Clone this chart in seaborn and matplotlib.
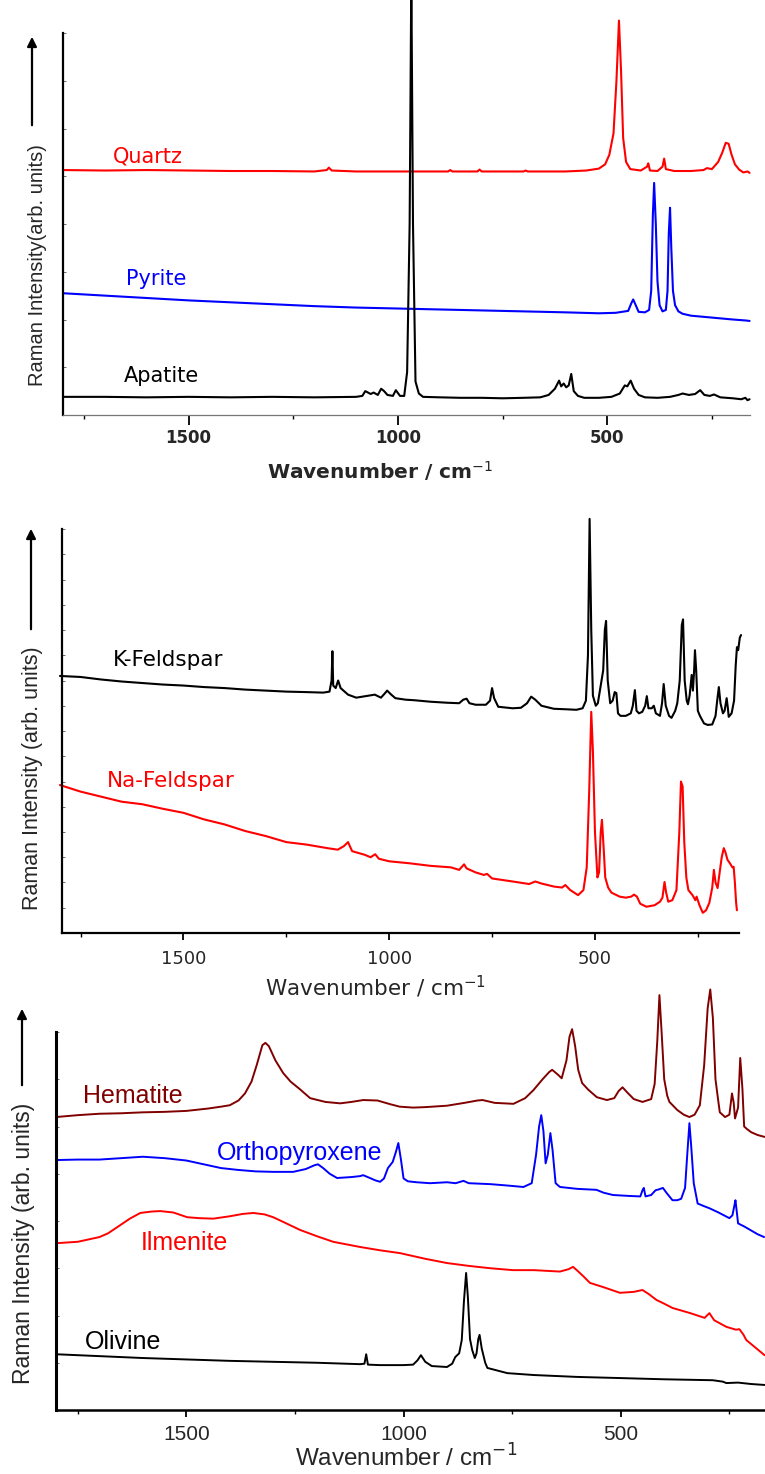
import matplotlib
matplotlib.use("Agg")
import matplotlib.pyplot as plt
import numpy as np
import seaborn as sns

# ---------- panel 1: Quartz / Pyrite / Apatite ----------
apatite_wn = [1800, 1700, 1600, 1500, 1400, 1300, 1200, 1100, 1085, 1078, 1065, 1058, 1048, 1040, 1033, 1025,
              1012, 1005, 995, 985, 978, 972, 968, 964, 958, 950, 940, 900, 850, 800, 750, 700, 660, 640, 625,
              615, 610, 604, 598, 592, 586, 580, 570, 555, 520, 490, 470, 458, 452, 444, 436, 425, 410, 380,
              350, 330, 320, 305, 290, 278, 268, 255, 245, 230, 200, 180, 170, 165, 160]
apatite_int = [0.38, 0.38, 0.37, 0.38, 0.37, 0.38, 0.37, 0.38, 0.40, 0.50, 0.44, 0.47, 0.42, 0.55, 0.50, 0.42,
               0.40, 0.52, 0.40, 0.40, 0.90, 4.00, 9.20, 4.00, 0.70, 0.45, 0.38, 0.37, 0.36, 0.36, 0.35, 0.36,
               0.37, 0.42, 0.55, 0.72, 0.60, 0.66, 0.58, 0.62, 0.86, 0.50, 0.40, 0.36, 0.36, 0.38, 0.45, 0.62,
               0.60, 0.72, 0.55, 0.42, 0.37, 0.36, 0.38, 0.42, 0.45, 0.42, 0.44, 0.52, 0.42, 0.40, 0.43, 0.37,
               0.35, 0.33, 0.36, 0.31, 0.33]

quartz_wn = [1800, 1700, 1600, 1500, 1400, 1300, 1200, 1170, 1165, 1158, 1100, 1000, 900, 880, 875, 870, 810,
             805, 800, 700, 695, 690, 600, 550, 520, 505, 495, 485, 478, 472, 467, 462, 455, 445, 420, 405, 402,
             398, 380, 368, 364, 360, 340, 300, 270, 262, 250, 235, 225, 217, 210, 203, 195, 185, 175, 165, 160]
quartz_int = [5.13, 5.12, 5.13, 5.12, 5.11, 5.11, 5.10, 5.13, 5.18, 5.12, 5.10, 5.10, 5.10, 5.10, 5.13, 5.10,
              5.10, 5.14, 5.10, 5.10, 5.12, 5.10, 5.10, 5.12, 5.16, 5.25, 5.45, 5.90, 7.00, 8.26, 7.20, 5.80,
              5.30, 5.15, 5.12, 5.20, 5.27, 5.12, 5.11, 5.20, 5.37, 5.15, 5.11, 5.11, 5.13, 5.17, 5.15, 5.30,
              5.50, 5.70, 5.68, 5.45, 5.25, 5.14, 5.08, 5.10, 5.07]

pyrite_wn = [1800, 1700, 1600, 1500, 1400, 1300, 1200, 1100, 1000, 900, 800, 700, 600, 520, 480, 450, 442, 438,
             432, 425, 410, 400, 395, 391, 388, 384, 380, 375, 368, 360, 356, 353, 350, 347, 343, 338, 330, 320,
             300, 250, 200, 170, 160]
pyrite_int = [2.55, 2.50, 2.45, 2.40, 2.36, 2.32, 2.28, 2.25, 2.23, 2.21, 2.19, 2.17, 2.15, 2.13, 2.14, 2.18,
              2.35, 2.42, 2.30, 2.16, 2.15, 2.20, 2.60, 4.20, 4.86, 4.00, 2.80, 2.30, 2.17, 2.20, 2.60, 3.80,
              4.34, 3.50, 2.60, 2.30, 2.17, 2.12, 2.08, 2.04, 2.00, 1.98, 1.97]

# ---------- panel 2: K-Feldspar / Na-Feldspar ----------
kfeld_wn = [1800, 1750, 1700, 1650, 1600, 1550, 1500, 1450, 1400, 1350, 1300, 1250, 1200, 1160, 1145, 1140,
            1138, 1136, 1130, 1124, 1118, 1100, 1080, 1065, 1050, 1035, 1020, 1010, 1005, 995, 985, 960, 940,
            900, 860, 830, 820, 812, 805, 790, 765, 755, 750, 745, 735, 700, 680, 665, 655, 645, 630, 600, 570,
            545, 530, 522, 517, 513, 509, 505, 498, 493, 488, 480, 476, 473, 469, 463, 457, 452, 448, 444, 438,
            425, 413, 408, 403, 399, 393, 385, 378, 374, 370, 362, 357, 352, 342, 337, 333, 328, 320, 314, 305,
            300, 294, 289, 286, 282, 277, 274, 270, 265, 262, 259, 257, 254, 250, 245, 235, 226, 215, 207, 203,
            199, 195, 189, 185, 180, 177, 175, 168, 162, 158, 155, 152, 148, 145]
kfeld_int = [5.09, 5.07, 5.02, 4.98, 4.95, 4.92, 4.90, 4.87, 4.85, 4.82, 4.80, 4.78, 4.77, 4.76, 4.78, 5.00,
             5.58, 4.90, 4.85, 5.00, 4.85, 4.72, 4.66, 4.68, 4.70, 4.72, 4.66, 4.75, 4.80, 4.72, 4.65, 4.62,
             4.61, 4.58, 4.56, 4.55, 4.62, 4.64, 4.55, 4.52, 4.52, 4.60, 4.85, 4.65, 4.48, 4.45, 4.46, 4.55,
             4.68, 4.62, 4.50, 4.44, 4.43, 4.42, 4.45, 4.60, 5.50, 8.20, 6.00, 4.70, 4.50, 4.55, 4.80, 5.20,
             6.00, 6.18, 5.00, 4.55, 4.60, 4.77, 4.75, 4.35, 4.30, 4.30, 4.35, 4.50, 4.81, 4.40, 4.35, 4.38,
             4.50, 4.69, 4.45, 4.45, 4.50, 4.35, 4.30, 4.55, 4.93, 4.50, 4.30, 4.26, 4.40, 4.55, 5.00, 6.10,
             6.21, 5.00, 4.60, 4.53, 4.70, 5.11, 4.80, 5.20, 5.60, 5.20, 4.40, 4.30, 4.15, 4.12, 4.13, 4.30,
             4.60, 4.87, 4.55, 4.35, 4.40, 4.65, 4.45, 4.28, 4.35, 4.60, 5.30, 5.66, 5.60, 5.85, 5.90]

nafeld_wn = [1800, 1750, 1700, 1650, 1600, 1550, 1500, 1450, 1400, 1350, 1300, 1250, 1200, 1150, 1125, 1110,
             1100, 1090, 1060, 1045, 1034, 1025, 1000, 950, 900, 850, 830, 818, 812, 790, 770, 762, 750, 700,
             660, 645, 630, 600, 580, 572, 560, 541, 528, 520, 514, 509, 505, 500, 494, 490, 486, 483, 479, 475,
             468, 460, 440, 425, 412, 405, 398, 390, 375, 355, 342, 336, 331, 327, 322, 312, 302, 295, 291, 287,
             283, 278, 273, 263, 256, 253, 246, 238, 230, 222, 215, 211, 207, 202, 197, 192, 187, 183, 178, 172,
             166, 163, 160, 157, 155]
nafeld_int = [2.93, 2.80, 2.70, 2.60, 2.55, 2.46, 2.38, 2.25, 2.15, 2.02, 1.92, 1.80, 1.75, 1.68, 1.65, 1.72,
              1.80, 1.62, 1.55, 1.50, 1.56, 1.47, 1.42, 1.38, 1.33, 1.30, 1.25, 1.36, 1.28, 1.20, 1.15, 1.17,
              1.08, 1.02, 0.97, 1.02, 0.98, 0.92, 0.90, 0.95, 0.85, 0.75, 0.85, 1.30, 2.80, 4.38, 3.60, 2.00,
              1.10, 1.20, 2.00, 2.24, 1.70, 1.10, 0.90, 0.80, 0.72, 0.70, 0.72, 0.76, 0.72, 0.58, 0.52, 0.55,
              0.62, 0.70, 1.01, 0.80, 0.62, 0.65, 0.85, 2.00, 3.00, 2.90, 1.80, 1.10, 0.85, 0.75, 0.65, 0.72,
              0.55, 0.40, 0.45, 0.60, 0.90, 1.25, 1.00, 0.89, 1.20, 1.50, 1.68, 1.60, 1.45, 1.38, 1.30, 1.31,
              1.00, 0.60, 0.45]

# ---------- panel 3: Hematite / Orthopyroxene / Ilmenite / Olivine ----------
hem_wn = [1800, 1750, 1700, 1650, 1600, 1550, 1500, 1450, 1420, 1400, 1380, 1365, 1350, 1338, 1325, 1318, 1310,
          1295, 1277, 1260, 1240, 1215, 1180, 1146, 1120, 1093, 1060, 1030, 1009, 978, 950, 900, 860, 830, 818,
          790, 747, 720, 701, 680, 665, 658, 645, 636, 625, 618, 612, 605, 598, 589, 575, 555, 532, 515, 505,
          496, 485, 470, 450, 430, 422, 416, 411, 406, 400, 393, 388, 370, 355, 342, 330, 318, 308, 300, 294,
          288, 282, 275, 272, 260, 250, 244, 240, 237, 230, 225, 220, 216, 210, 200, 185, 169]
hem_int = [6.20, 6.24, 6.27, 6.28, 6.30, 6.31, 6.33, 6.38, 6.42, 6.45, 6.55, 6.70, 6.95, 7.30, 7.72, 7.77, 7.70,
           7.40, 7.13, 6.95, 6.80, 6.60, 6.52, 6.49, 6.52, 6.56, 6.55, 6.47, 6.42, 6.40, 6.41, 6.44, 6.50, 6.55,
           6.56, 6.50, 6.48, 6.60, 6.77, 7.00, 7.15, 7.20, 7.10, 7.02, 7.40, 7.90, 8.06, 7.70, 7.20, 6.92, 6.78,
           6.62, 6.56, 6.60, 6.75, 6.83, 6.72, 6.58, 6.52, 6.58, 6.90, 7.80, 8.78, 8.00, 7.00, 6.65, 6.52, 6.35,
           6.25, 6.20, 6.25, 6.45, 7.30, 8.50, 8.90, 8.30, 7.00, 6.50, 6.30, 6.20, 6.25, 6.70, 6.50, 6.17, 6.40,
           7.45, 6.80, 6.00, 5.95, 5.88, 5.82, 5.78]

opx_wn = [1800, 1750, 1700, 1650, 1600, 1550, 1500, 1460, 1420, 1380, 1340, 1300, 1254, 1225, 1205, 1197, 1185,
          1170, 1153, 1120, 1100, 1093, 1080, 1065, 1054, 1045, 1036, 1025, 1018, 1012, 1006, 1000, 990, 970, 939,
          900, 880, 862, 850, 800, 760, 724, 705, 695, 688, 683, 678, 673, 668, 662, 657, 650, 640, 600, 556, 540,
          518, 480, 455, 450, 447, 443, 430, 420, 412, 403, 395, 381, 370, 361, 352, 347, 342, 338, 332, 323, 310,
          296, 275, 250, 243, 238, 236, 233, 230, 215, 200, 185, 170]
opx_int = [5.29, 5.30, 5.30, 5.33, 5.36, 5.33, 5.28, 5.20, 5.12, 5.08, 5.05, 5.04, 5.04, 5.10, 5.18, 5.20, 5.12,
           5.00, 4.91, 4.93, 4.95, 4.97, 4.92, 4.86, 4.83, 4.90, 5.12, 5.25, 5.45, 5.65, 5.30, 4.90, 4.84, 4.82,
           4.80, 4.82, 4.80, 4.85, 4.80, 4.78, 4.75, 4.72, 4.80, 5.40, 6.00, 6.24, 5.90, 5.22, 5.40, 5.86, 5.50,
           4.80, 4.72, 4.68, 4.66, 4.60, 4.55, 4.53, 4.52, 4.65, 4.70, 4.52, 4.55, 4.65, 4.67, 4.70, 4.60, 4.44,
           4.44, 4.47, 4.70, 5.40, 6.07, 5.60, 4.80, 4.37, 4.32, 4.27, 4.18, 4.06, 4.12, 4.35, 4.44, 4.20, 3.95,
           3.88, 3.80, 3.72, 3.66]

ilm_wn = [1800, 1750, 1700, 1680, 1659, 1630, 1606, 1580, 1560, 1530, 1498, 1470, 1438, 1400, 1370, 1346, 1320,
          1300, 1270, 1238, 1200, 1162, 1100, 1054, 1008, 950, 900, 850, 800, 748, 700, 640, 620, 610, 600, 585,
          571, 540, 502, 470, 450, 435, 418, 400, 381, 340, 307, 296, 285, 257, 235, 227, 218, 211, 190, 169]
ilm_int = [3.53, 3.56, 3.66, 3.74, 3.87, 4.05, 4.17, 4.20, 4.21, 4.18, 4.08, 4.06, 4.05, 4.10, 4.15, 4.17, 4.14,
           4.08, 3.95, 3.81, 3.68, 3.56, 3.45, 3.38, 3.32, 3.20, 3.11, 3.05, 3.00, 2.96, 2.96, 2.93, 2.98, 3.03,
           2.95, 2.82, 2.69, 2.60, 2.48, 2.50, 2.54, 2.45, 2.33, 2.25, 2.16, 2.05, 1.95, 2.05, 1.90, 1.76, 1.70,
           1.71, 1.60, 1.48, 1.32, 1.16]

oliv_wn = [1800, 1750, 1700, 1650, 1600, 1500, 1400, 1300, 1200, 1100, 1090, 1086, 1082, 1054, 1000, 978, 968,
           960, 950, 935, 900, 888, 881, 872, 866, 861, 856, 852, 847, 842, 836, 832, 828, 825, 820, 812, 807, 761,
           700, 600, 518, 400, 288, 265, 257, 230, 200, 169]
oliv_int = [1.18, 1.16, 1.14, 1.12, 1.10, 1.07, 1.04, 1.02, 1.00, 0.97, 0.98, 1.18, 0.96, 0.95, 0.95, 0.96, 1.05,
            1.16, 1.02, 0.93, 0.91, 0.98, 1.12, 1.20, 1.48, 2.30, 2.90, 2.40, 1.50, 1.27, 1.10, 1.20, 1.50, 1.59,
            1.30, 1.00, 0.89, 0.78, 0.74, 0.70, 0.68, 0.65, 0.63, 0.60, 0.57, 0.58, 0.55, 0.53]

major_ticks = [1500, 1000, 500]
minor_ticks = [1750, 1250, 750, 250]
xlabel_text = "Wavenumber / cm$^{-1}$"

W, H = 765, 1474
RED, BLUE, BLACK, DARKRED = "#ff0000", "#0000ff", "#000000", "#800000"

sns.set_theme(style="white")
plt.rcParams["font.family"] = ["DejaVu Sans"]
plt.rcParams["mathtext.fontset"] = "dejavusans"

fig = plt.figure(figsize=(W / 100, H / 100), dpi=100)


def box(l, t, r, b):
    return [l / W, 1 - b / H, (r - l) / W, (b - t) / H]


def style_axes(ax, xlim, yticks, tick_font, maj_len, pad, xspine_color, xspine_lw):
    ax.set_xlim(*xlim)
    ax.set_ylim(0, 8)
    for s in ["top", "right"]:
        ax.spines[s].set_visible(False)
    ax.spines["left"].set_color("black")
    ax.spines["left"].set_linewidth(1.6)
    ax.spines["bottom"].set_color(xspine_color)
    ax.spines["bottom"].set_linewidth(xspine_lw)
    ax.set_xticks(major_ticks)
    ax.set_xticks(minor_ticks, minor=True)
    ax.set_xticklabels([str(t) for t in major_ticks], **tick_font)
    ax.tick_params(axis="x", which="major", direction="out", length=maj_len, width=1.3,
                   color="black", pad=pad, bottom=True)
    ax.tick_params(axis="x", which="minor", direction="out", length=3, width=1.0,
                   color="black", bottom=True)
    ax.set_yticks(yticks)
    ax.set_yticklabels([])
    ax.tick_params(axis="y", which="major", direction="in", length=2.5, width=0.6,
                   color="#555555", left=True)
    ax.set_ylabel("")
    ax.set_xlabel("")
    ax.grid(False)


def arrow(x, y0, y1):
    fig.add_artist(matplotlib.patches.FancyArrowPatch(
        (x / W, 1 - y0 / H), (x / W, 1 - y1 / H), transform=fig.transFigure,
        arrowstyle="-|>", mutation_scale=14, color="black", lw=1.6))


# ---- panel 1 ----
ax1 = fig.add_axes(box(63, 33, 750, 415))
for wn, it, c in [(quartz_wn, quartz_int, RED), (pyrite_wn, pyrite_int, BLUE),
                  (apatite_wn, apatite_int, BLACK)]:
    sns.lineplot(x=wn, y=it, ax=ax1, color=c, lw=1.5, estimator=None, sort=False, clip_on=False)
style_axes(ax1, (1800, 159), np.arange(0, 9, 1),
           dict(fontsize=12, fontweight="bold", family="DejaVu Sans"), 7, 3, "#777777", 0.9)
ax1.text(1681, 5.28, "Quartz", color=RED, fontsize=15, ha="left", va="baseline")
ax1.text(1650, 2.72, "Pyrite", color=BLUE, fontsize=15, ha="left", va="baseline")
ax1.text(1655, 0.69, "Apatite", color=BLACK, fontsize=15, ha="left", va="baseline")
ax1.set_xlabel(xlabel_text, fontsize=14.5, fontweight="bold", va="center")
ax1.xaxis.set_label_coords((380 - 63) / 687, (415 - 471) / 382)
fig.text(38 / W, 1 - 265 / H, "Raman Intensity(arb. units)", rotation=90, ha="center", va="center",
         fontsize=14.5, family="Liberation Sans")
arrow(32, 128, 34)

# ---- panel 2 ----
ax2 = fig.add_axes(box(62, 529, 739, 933))
for wn, it, c in [(kfeld_wn, kfeld_int, BLACK), (nafeld_wn, nafeld_int, RED)]:
    sns.lineplot(x=wn, y=it, ax=ax2, color=c, lw=1.5, estimator=None, sort=False, clip_on=False)
style_axes(ax2, (1795, 150), np.arange(0, 8.5, 0.5),
           dict(fontsize=13, family="DejaVu Sans"), 5, 7, "black", 1.6)
ax2.text(1672, 5.29, "K-Feldspar", color=BLACK, fontsize=15.5, ha="left", va="baseline")
ax2.text(1687, 2.89, "Na-Feldspar", color=RED, fontsize=15.5, ha="left", va="baseline")
ax2.set_xlabel(xlabel_text, fontsize=15.5, va="center")
ax2.xaxis.set_label_coords((375 - 62) / 677, (933 - 987) / 404)
fig.text(33 / W, 1 - 778 / H, "Raman Intensity (arb. units)", rotation=90, ha="center", va="center",
         fontsize=15.5, family="Liberation Sans")
arrow(31, 632, 526)

# ---- panel 3 ----
ax3 = fig.add_axes(box(56, 1032, 765, 1410))
for wn, it, c in [(hem_wn, hem_int, DARKRED), (opx_wn, opx_int, BLUE),
                  (ilm_wn, ilm_int, RED), (oliv_wn, oliv_int, BLACK)]:
    sns.lineplot(x=wn, y=it, ax=ax3, color=c, lw=1.4, estimator=None, sort=False, clip_on=False)
style_axes(ax3, (1800, 168), np.arange(0, 9, 1),
           dict(fontsize=15, family="Liberation Sans"), 5, 6, "black", 1.8)
ax3.spines["left"].set_linewidth(2.2)
for t, x, y, c in [("Hematite", 1739, 6.5, DARKRED), ("Orthopyroxene", 1429, 5.29, BLUE),
                   ("Ilmenite", 1606, 3.39, RED), ("Olivine", 1734, 1.29, BLACK)]:
    ax3.text(x, y, t, color=c, fontsize=18, ha="left", va="baseline", family="Liberation Sans")
ax3.set_xlabel(xlabel_text, fontsize=17.5, va="baseline", family="Liberation Sans")
ax3.xaxis.set_label_coords((406 - 56) / 709, (1410 - 1467) / 378)
fig.text(24 / W, 1 - 1243 / H, "Raman Intensity (arb. units)", rotation=90, ha="center", va="center",
         fontsize=16.5, family="Liberation Sans")
arrow(22, 1088, 1006)

fig.savefig("out.png", dpi=100)
